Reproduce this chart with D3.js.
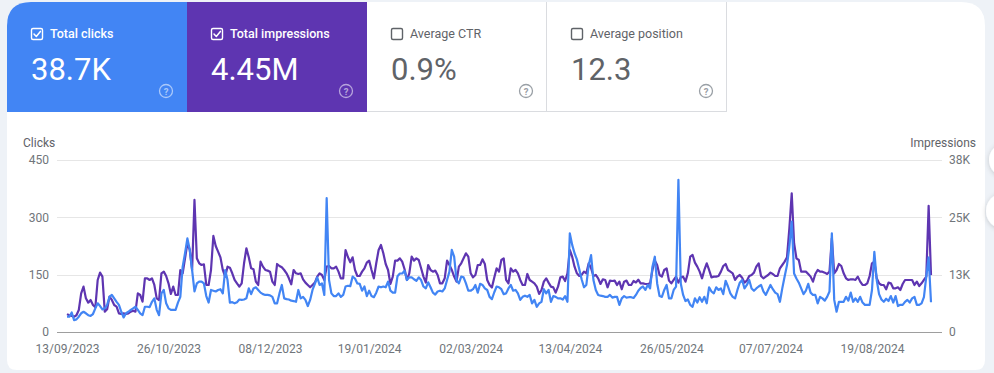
<!DOCTYPE html>
<html><head><meta charset="utf-8">
<script src="https://cdn.jsdelivr.net/npm/d3@7"></script>
<style>
html,body{margin:0;padding:0;background:#eef2f7;width:994px;height:373px;overflow:hidden;font-family:Roboto,Arial,sans-serif;}
svg{display:block}
</style></head><body>
<svg id="chart" width="994" height="373"></svg>
<script>
// ---------- DATA ----------
const startDate = "2023-09-13";
const clicks = [
40,40,51,31,33,40,49,53,49,44,
42,47,62,75,68,59,62,71,92,97,
88,79,71,53,38,49,53,58,62,66,
58,49,44,66,66,65,79,88,58,44,
101,110,75,62,58,58,58,77,92,171,
206,245,215,162,106,127,132,132,127,94,
77,110,108,106,110,112,101,162,136,77,
78,75,78,85,84,85,88,114,99,114,
117,110,103,99,97,97,96,92,75,75,
101,123,88,86,85,82,81,79,110,88,
92,84,68,84,110,126,143,123,127,97,
350,136,101,94,94,101,92,97,119,121,
120,145,140,127,126,108,119,94,108,94,
91,103,119,117,119,117,132,108,103,103,
146,153,153,160,136,143,143,138,134,143,
136,119,114,130,117,103,98,106,108,106,
114,136,158,215,197,136,127,145,143,127,
108,108,112,123,103,126,123,114,110,92,
86,104,119,117,112,99,101,114,123,108,
110,101,84,92,95,92,97,75,84,66,
75,79,112,101,110,79,94,92,88,88,
85,94,79,258,228,206,190,164,138,117,
123,175,201,136,110,97,95,94,92,92,
97,90,92,92,71,88,94,90,91,91,
89,97,108,115,119,110,123,114,171,197,
127,94,92,110,123,88,88,110,119,398,
127,97,81,85,71,66,88,77,91,79,
92,75,117,106,101,117,110,114,99,134,
119,101,92,88,110,129,136,114,123,136,
114,108,114,119,123,106,97,110,123,112,
103,99,79,114,145,175,223,289,153,140,
129,114,99,108,126,103,97,97,75,92,
88,82,92,106,258,84,53,79,79,79,
92,82,103,79,88,79,92,77,71,71,
71,110,210,136,99,85,79,87,81,94,
77,94,68,71,71,79,84,77,88,92,
71,71,75,91,145,195,78
];
const impressions = [
3900,3640,3490,3340,3640,4800,8430,9890,7340,6400,
6980,5890,5380,11340,12940,12070,4430,4940,7710,6980,
5890,5530,4070,3930,4070,3930,4070,4430,4650,4430,
8430,8070,6620,11700,11700,11340,11700,10250,7340,6980,
12800,13160,12210,10610,8290,9890,8070,8070,13520,12800,
16070,19340,17880,13520,28790,16070,14980,14610,14760,10250,
10250,13520,20940,18760,17520,16280,13520,12070,14250,14030,
12800,11340,10610,9890,10610,14980,18250,16280,13890,13670,
10980,10250,15340,14250,13520,13380,13160,10980,10250,14830,
14390,14100,13520,12800,11700,10400,13520,12800,12650,12800,
11490,10760,10250,9740,10250,10760,12070,12800,12430,11340,
14250,14390,13890,13890,14250,13160,11700,11700,17880,16350,
15200,16280,13520,12210,12210,13160,13890,15120,15560,13520,
11700,14980,17880,18970,17160,14830,13520,10470,12070,15560,
15560,16070,15340,13670,11340,12800,16430,15560,16070,15700,
13890,12070,10760,14610,13520,13160,13380,12430,10610,10610,
11700,15560,14610,13520,12070,10980,14250,14980,16070,17160,
16430,12800,11920,12430,14610,14610,15850,14830,11340,10250,
9700,11900,13890,13160,15700,16070,11340,10610,13890,13160,
13520,12800,11340,10250,10250,12650,11340,10980,10610,9890,
8290,9160,10980,11700,10760,9890,9740,8580,9890,11920,
12070,11120,12800,17880,16430,14250,12800,12210,12430,13160,
12800,14980,13890,12210,12430,11700,10470,11490,11340,9740,
11200,11120,11200,10250,10980,9310,10980,11200,10250,10250,
11120,10800,11400,10610,10610,10470,10470,10610,13520,15560,
14610,12430,12070,13520,13890,11200,10610,11340,12070,10760,
11920,12070,10980,12800,16430,16790,15120,14250,13160,11700,
13520,14980,13520,11920,12070,12070,12210,13160,14390,14830,
13520,13160,12800,11340,12070,12430,11850,10760,11200,12210,
12430,12940,14250,14980,12210,11700,12070,12430,12940,12650,
12210,12210,13890,14610,15340,16280,22610,30240,19340,16070,
15700,13160,13160,13160,12650,12070,10980,12650,13520,13160,
13160,12940,12650,13160,20430,12800,13520,14830,14390,12800,
11700,11340,11490,11490,11340,12070,10980,10250,10250,10610,
12210,14980,15340,11700,10610,10250,10250,9310,10760,10610,
9520,9520,9740,9160,10470,11340,11340,11340,11340,10250,
10980,10030,10610,11340,12070,27500,12400
];
const leftTicks = [0, 150, 300, 450];
const leftTickLabels = ["0", "150", "300", "450"];
const rightTicks = [0, 12500, 25000, 37500];
const rightTickLabels = ["0", "13K", "25K", "38K"];
const xTickDates = ["2023-09-13","2023-10-26","2023-12-08","2024-01-19","2024-03-02","2024-04-13","2024-05-26","2024-07-07","2024-08-19"];
const xTickLabels = ["13/09/2023","26/10/2023","08/12/2023","19/01/2024","02/03/2024","13/04/2024","26/05/2024","07/07/2024","19/08/2024"];
const metricNames = ["Total clicks", "Total impressions", "Average CTR", "Average position"];
const metricValues = ["38.7K", "4.45M", "0.9%", "12.3"];
const metricSelected = [true, true, false, false];
const metricColors = ["#4285f4", "#5e35b1", "#ffffff", "#ffffff"];
const leftAxisTitle = "Clicks";
const rightAxisTitle = "Impressions";

// ---------- DRAW ----------
const svg = d3.select("#chart");
const W = 994, H = 373;
const parse = d3.utcParse("%Y-%m-%d");
const t0 = parse(startDate);
const dates = clicks.map((_, i) => d3.utcDay.offset(t0, i));

const defs = svg.append("defs");
const f = defs.append("filter").attr("id","sh").attr("x","-50%").attr("y","-50%").attr("width","200%").attr("height","200%");
f.append("feDropShadow").attr("dx",0).attr("dy",1).attr("stdDeviation",2.5).attr("flood-color","#000").attr("flood-opacity",0.18);

// card
const cx0 = 7, cx1 = 985, cy0 = 2, cy1 = 370, r = 24, rb = 10;
const cardPath = `M${cx0},${cy1-rb} L${cx0},${cy0+r} Q${cx0},${cy0} ${cx0+r},${cy0} L${cx1-r},${cy0} Q${cx1},${cy0} ${cx1},${cy0+r} L${cx1},${cy1-rb} Q${cx1},${cy1} ${cx1-rb},${cy1} L${cx0+rb},${cy1} Q${cx0},${cy1} ${cx0},${cy1-rb} Z`;
defs.append("clipPath").attr("id","cardclip").append("path").attr("d", cardPath);
svg.append("path").attr("d", cardPath).attr("fill", "#ffffff");

// floating round buttons at the right edge
svg.append("circle").attr("cx",1006).attr("cy",160).attr("r",17).attr("fill","#fff").attr("filter","url(#sh)");
svg.append("circle").attr("cx",1004).attr("cy",211).attr("r",18).attr("fill","#fff").attr("filter","url(#sh)");

// metric tiles
const tileW = 180, tileH = 110, tileX0 = 7, tileY0 = 2;
const tiles = svg.append("g").attr("clip-path","url(#cardclip)");
metricNames.forEach((name, i) => {
  const x = tileX0 + i * tileW;
  const sel = metricSelected[i];
  const g = tiles.append("g").attr("transform", `translate(${x},${tileY0})`);
  if (sel) g.append("rect").attr("width", tileW).attr("height", tileH).attr("fill", metricColors[i]);
  const fg = sel ? "#ffffff" : "#5f6368";
  g.append("rect").attr("x", 24.5).attr("y", 26.5).attr("width", 11).attr("height", 11).attr("rx", 1.5)
    .attr("fill", "none").attr("stroke", fg).attr("stroke-width", 1.4);
  if (sel) g.append("path").attr("d", "M27,32 L29.3,34.4 L33.4,29.4").attr("fill","none")
    .attr("stroke", fg).attr("stroke-width", 1.5).attr("stroke-linecap","round").attr("stroke-linejoin","round");
  g.append("text").attr("x", 43).attr("y", 36).text(name)
    .attr("font-size", 12.5).attr("font-weight", sel ? 500 : 400).attr("fill", fg);
  g.append("text").attr("x", 24).attr("y", 78).text(metricValues[i])
    .attr("font-size", 31).attr("font-weight", 400).attr("fill", sel ? "#fff" : "#5f6368");
  const hc = sel ? "rgba(255,255,255,0.55)" : "#9aa0a6";
  g.append("circle").attr("cx", 159).attr("cy", 89).attr("r", 6.5).attr("fill","none").attr("stroke", hc).attr("stroke-width", 1.3);
  g.append("text").attr("x", 159).attr("y", 92.5).attr("text-anchor","middle").text("?")
    .attr("font-size", 9.5).attr("font-weight", 700).attr("fill", hc);
});
const bc = "#dadce0";
svg.append("line").attr("x1", 546.5).attr("x2", 546.5).attr("y1", 2).attr("y2", 112).attr("stroke", bc);
svg.append("line").attr("x1", 726.5).attr("x2", 726.5).attr("y1", 2).attr("y2", 112).attr("stroke", bc);
svg.append("line").attr("x1", 367).attr("x2", 727).attr("y1", 111.5).attr("y2", 111.5).attr("stroke", bc);

// scales
const x = d3.scaleUtc().domain([dates[0], dates[dates.length - 1]]).range([67, 931]);
const yL = d3.scaleLinear().domain([0, 450]).range([332, 160]);
const yR = d3.scaleLinear().domain([0, 37500]).range([332, 160]);
const gx0 = 57, gx1 = 942;

// grid
const grid = svg.append("g");
leftTicks.forEach((v) => {
  grid.append("line").attr("x1", gx0).attr("x2", gx1)
    .attr("y1", Math.round(yL(v)) + 0.5).attr("y2", Math.round(yL(v)) + 0.5)
    .attr("stroke", v === 0 ? "#9e9e9e" : "#e6e6e6").attr("stroke-width", 1);
});

const lab = "#70757a";
const axL = d3.axisLeft(yL).tickValues(leftTicks).tickFormat((d, i) => leftTickLabels[i]).tickSize(0).tickPadding(0);
const gL = svg.append("g").attr("transform", "translate(49,0)").call(axL);
gL.select(".domain").remove();
gL.selectAll("text").attr("font-size", 12).attr("fill", lab).attr("font-family", "Roboto, Arial, sans-serif");
const axR = d3.axisRight(yR).tickValues(rightTicks).tickFormat((d, i) => rightTickLabels[i]).tickSize(0).tickPadding(0);
const gR = svg.append("g").attr("transform", "translate(949,0)").call(axR);
gR.select(".domain").remove();
gR.selectAll("text").attr("font-size", 12).attr("fill", lab).attr("font-family", "Roboto, Arial, sans-serif");
const xTicks = xTickDates.map(parse);
const axB = d3.axisBottom(x).tickValues(xTicks).tickFormat((d, i) => xTickLabels[i]).tickSize(0).tickPadding(0);
const gB = svg.append("g").attr("transform", "translate(0,344)").call(axB);
gB.select(".domain").remove();
gB.selectAll("text").attr("font-size", 12).attr("fill", lab).attr("font-family", "Roboto, Arial, sans-serif");

svg.append("text").attr("x", 23).attr("y", 147).text(leftAxisTitle).attr("font-size", 12).attr("fill", "#5f6368");
svg.append("text").attr("x", 976).attr("y", 147).attr("text-anchor","end").text(rightAxisTitle).attr("font-size", 12).attr("fill", "#5f6368");

// lines
const lineI = d3.line().x((d, i) => x(dates[i])).y(d => yR(d));
const lineC = d3.line().x((d, i) => x(dates[i])).y(d => yL(d));
svg.append("path").datum(impressions).attr("d", lineI).attr("fill","none")
  .attr("stroke", "#5e35b1").attr("stroke-width", 2.2).attr("stroke-linejoin","round");
svg.append("path").datum(clicks).attr("d", lineC).attr("fill","none")
  .attr("stroke", "#4285f4").attr("stroke-width", 2.2).attr("stroke-linejoin","round");
</script>
</body></html>
